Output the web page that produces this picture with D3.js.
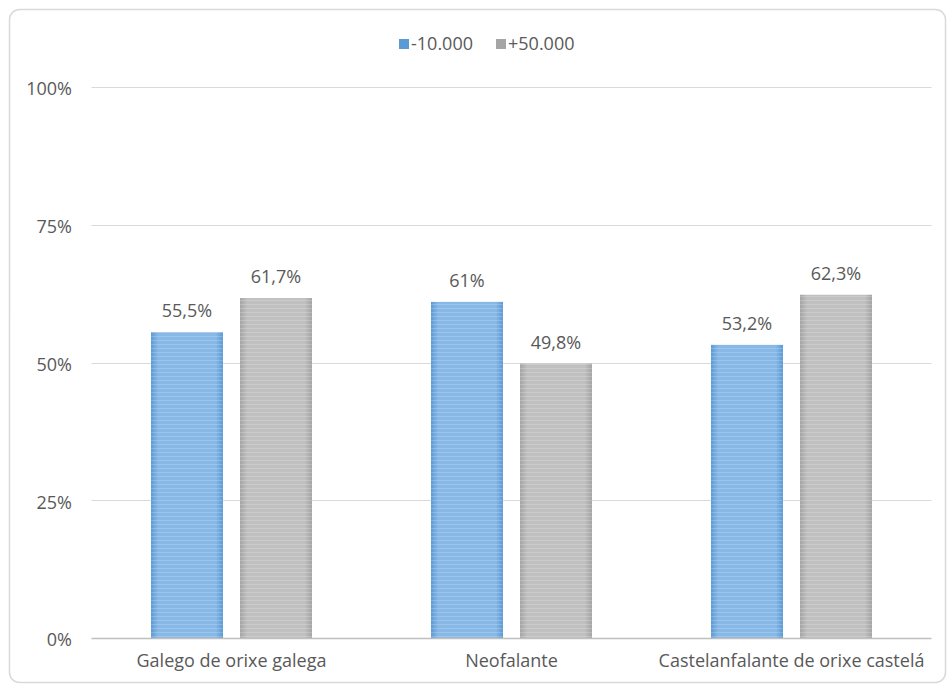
<!DOCTYPE html>
<html><head><meta charset="utf-8">
<script src="https://cdn.jsdelivr.net/npm/d3@7"></script>
<style>body{margin:0;background:#fff}svg{display:block}</style>
</head><body>
<svg id="c" width="948" height="687"></svg>
<script>
const categories = ["Galego de orixe galega", "Neofalante", "Castelanfalante de orixe castelá"];
const seriesNames = ["-10.000", "+50.000"];
const seriesA = [55.5, 61, 53.2];
const seriesB = [61.7, 49.8, 62.3];
const valueLabelsA = ["55,5%", "61%", "53,2%"];
const valueLabelsB = ["61,7%", "49,8%", "62,3%"];
const yTicks = [0, 25, 50, 75, 100];

const svg = d3.select("#c");
const font = "'Open Sans', 'Noto Sans', sans-serif";
const txt = "#595959";
const fs = 18;

svg.append("rect").attr("x", 9.5).attr("y", 9.5).attr("width", 936).attr("height", 673)
  .attr("rx", 10).attr("fill", "#fff").attr("stroke", "#d9d9d9").attr("stroke-width", 1.5);

const defs = svg.append("defs");
function grad(id, edge, mid) {
  const g = defs.append("linearGradient").attr("id", id).attr("x1", "0").attr("x2", "1").attr("y1", "0").attr("y2", "0");
  g.append("stop").attr("offset", "0").attr("stop-color", edge);
  g.append("stop").attr("offset", "0.1").attr("stop-color", mid);
  g.append("stop").attr("offset", "0.9").attr("stop-color", mid);
  g.append("stop").attr("offset", "1").attr("stop-color", edge);
}
grad("gA", "#5b9bd5", "#88b8e6");
grad("gB", "#a5a5a5", "#c0c0c0");
const pat = defs.append("pattern").attr("id", "stripes").attr("width", 4).attr("height", 4).attr("patternUnits", "userSpaceOnUse");
pat.append("rect").attr("width", 4).attr("height", 1).attr("fill", "rgba(255,255,255,0.18)");

const x = d3.scaleBand().domain(categories).range([91.5, 931.5]).paddingInner(0).paddingOuter(0);
const x1 = d3.scaleBand().domain(seriesNames).range([59.5, 220.5]).paddingInner(17 / 89).paddingOuter(0);
const y = d3.scaleLinear().domain([0, 100]).range([638, 87]);

// gridlines
svg.append("g").selectAll("line").data(yTicks.filter(d => d > 0)).join("line")
  .attr("x1", 91.5).attr("x2", 931.5).attr("y1", d => Math.round(y(d)) + 0.5).attr("y2", d => Math.round(y(d)) + 0.5)
  .attr("stroke", "#d9d9d9").attr("stroke-width", 1);

// y axis labels
const yAxis = d3.axisLeft(y).tickValues(yTicks).tickFormat(d => d + "%").tickSize(0).tickPadding(0);
const ya = svg.append("g").attr("transform", "translate(72,2)").call(yAxis);
ya.select(".domain").remove();
ya.selectAll("text").attr("font-family", font).attr("font-size", fs).attr("fill", txt);

const data = categories.map((c, i) => ({c, vals: [
  {s: seriesNames[0], v: seriesA[i], lab: valueLabelsA[i], fill: "url(#gA)"},
  {s: seriesNames[1], v: seriesB[i], lab: valueLabelsB[i], fill: "url(#gB)"}]}));

const groups = svg.append("g").selectAll("g").data(data).join("g")
  .attr("transform", d => `translate(${x(d.c)},0)`);
groups.selectAll("rect.bar").data(d => d.vals).join("rect").attr("class", "bar")
  .attr("x", d => x1(d.s)).attr("width", x1.bandwidth())
  .attr("y", d => y(d.v)).attr("height", d => y(0) - y(d.v)).attr("fill", d => d.fill);
groups.selectAll("rect.str").data(d => d.vals).join("rect").attr("class", "str")
  .attr("x", d => x1(d.s)).attr("width", x1.bandwidth())
  .attr("y", d => y(d.v)).attr("height", d => y(0) - y(d.v)).attr("fill", "url(#stripes)");
groups.selectAll("text").data(d => d.vals).join("text")
  .attr("x", d => x1(d.s) + x1.bandwidth() / 2).attr("y", d => y(d.v) - 15)
  .attr("text-anchor", "middle").attr("font-family", font).attr("font-size", fs).attr("fill", txt)
  .text(d => d.lab);

// zero line
svg.append("line").attr("x1", 91.5).attr("x2", 931.5).attr("y1", y(0) + 0.5).attr("y2", y(0) + 0.5)
  .attr("stroke", "#bfbfbf").attr("stroke-width", 1.5);

// x axis labels
const xAxis = d3.axisBottom(x).tickSize(0).tickPadding(0);
const xa = svg.append("g").attr("transform", "translate(0,654)").call(xAxis);
xa.select(".domain").remove();
xa.selectAll("text").attr("font-family", font).attr("font-size", fs).attr("fill", txt).attr("dy", "0.71em");

// legend
const legend = [{n: seriesNames[0], c: "#5b9bd5", x: 399}, {n: seriesNames[1], c: "#a5a5a5", x: 496}];
const lg = svg.append("g").selectAll("g").data(legend).join("g").attr("transform", d => `translate(${d.x},39)`);
lg.append("rect").attr("width", 10).attr("height", 10).attr("fill", d => d.c);
lg.append("text").attr("x", 12).attr("y", 5).attr("dy", "0.35em").attr("font-family", font).attr("font-size", fs)
  .attr("fill", txt).text(d => d.n);
</script>
</body></html>
